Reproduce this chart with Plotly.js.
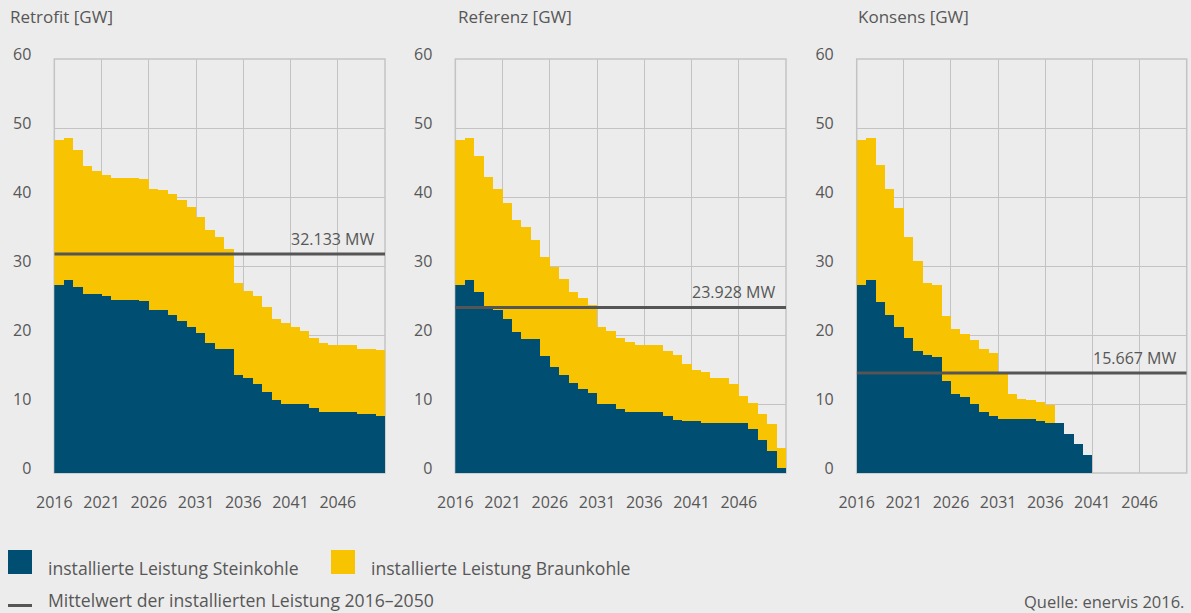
<!DOCTYPE html>
<html><head><meta charset="utf-8">
<script src="https://cdn.plot.ly/plotly-3.0.1.min.js"></script>
<style>html,body{margin:0;padding:0;background:#ececec;}#chart{width:1191px;height:613px;}</style>
</head><body><div id="chart"></div>
<script>
const years = [2016,2017,2018,2019,2020,2021,2022,2023,2024,2025,2026,2027,2028,2029,2030,2031,2032,2033,2034,2035,2036,2037,2038,2039,2040,2041,2042,2043,2044,2045,2046,2047,2048,2049,2050];
const tickYears = [2016,2021,2026,2031,2036,2041,2046,2051];
const tickLabels = ['2016','2021','2026','2031','2036','2041','2046',''];
const yTicks = [0,10,20,30,40,50,60];
const panelTitles = ['Retrofit [GW]','Referenz [GW]','Konsens [GW]'];

const retrofitStein = [27.3,28.0,27.0,25.9,25.9,25.7,25.1,25.1,25.1,25.0,23.6,23.6,22.9,22.0,21.2,20.3,18.9,18.0,18.0,14.2,13.8,12.9,11.8,10.6,10.0,10.0,10.0,9.4,8.9,8.9,8.9,8.9,8.5,8.5,8.3];
const retrofitBraun = [21.0,20.5,19.8,18.6,17.8,17.5,17.6,17.6,17.6,17.6,17.5,17.4,17.5,17.5,17.4,16.8,16.3,16.2,14.4,13.3,12.6,12.7,12.2,11.7,11.7,11.1,10.6,10.1,10.0,9.6,9.6,9.6,9.5,9.5,9.5];

const referenzStein = [27.3,28.0,26.3,24.1,23.6,22.3,20.4,19.4,19.4,16.9,15.4,14.2,13.1,12.2,11.6,10.0,10.0,9.3,8.9,8.9,8.9,8.9,8.3,7.7,7.6,7.6,7.2,7.2,7.2,7.2,7.2,6.4,4.8,3.2,0.7];
const referenzBraun = [21.0,20.5,19.7,18.8,17.6,16.9,16.3,16.3,14.4,14.4,14.5,13.9,13.2,13.2,12.8,11.1,10.6,10.2,10.1,9.6,9.6,9.6,9.4,9.4,8.2,7.3,7.4,6.6,6.6,5.7,4.0,3.8,3.8,3.9,2.9];

const konsensStein = [27.3,28.0,24.8,22.9,21.1,19.6,17.7,17.1,16.8,13.4,11.5,11.0,10.0,8.8,8.3,7.8,7.8,7.8,7.8,7.5,7.2,7.2,5.7,4.2,2.6,0,0,0,0,0,0,0,0,0,0];
const konsensBraun = [21.0,20.5,19.8,18.2,17.3,14.6,13.0,10.5,10.4,9.4,9.4,9.2,9.3,9.2,9.1,6.5,3.7,2.9,2.8,2.8,2.7,0,0,0,0,0,0,0,0,0,0,0,0,0,0];

const meanValues = [31.75, 24.0, 14.5];
const meanLabels = ['32.133 MW','23.928 MW','15.667 MW'];

const legendLabels = ['installierte Leistung Steinkohle','installierte Leistung Braunkohle','Mittelwert der installierten Leistung 2016\u20132050'];
const sourceText = 'Quelle: enervis 2016.';

const BLUE = '#004f73', YELLOW = '#f8c300', LINE = '#555555', TXT = '#575757', GRID = '#c3c3c3', BG = '#ececec';
const FONT = 'Open Sans';
const W = 1191, H = 613;
const px = v => v / W, py = v => 1 - v / H;

const steinSeries = [retrofitStein, referenzStein, konsensStein];
const braunSeries = [retrofitBraun, referenzBraun, konsensBraun];
const domainsPx = [[54.3,385],[455.3,786],[856.7,1186.7]];
const titleX = [8, 456, 856];
const xEnd = years[years.length-1] + 1;

const data = [];
const layout = {
  width: W, height: H, margin: {l:0,r:0,t:0,b:0},
  paper_bgcolor: BG, plot_bgcolor: BG,
  barmode: 'stack', bargap: 0, showlegend: false,
  font: {family: FONT, color: TXT, size: 16},
  annotations: [], shapes: []
};

for (let i = 0; i < 3; i++) {
  const sfx = i === 0 ? '' : String(i+1);
  const xa = 'x' + sfx, ya = 'y' + sfx;
  data.push({type:'bar', x: years, y: steinSeries[i], xaxis: xa, yaxis: ya, offset: 0, width: 1,
    marker: {color: BLUE, line: {width: 0}}, hoverinfo: 'x+y'});
  data.push({type:'bar', x: years, y: braunSeries[i], xaxis: xa, yaxis: ya, offset: 0, width: 1,
    marker: {color: YELLOW, line: {width: 0}}, hoverinfo: 'x+y'});
  data.push({type:'scatter', mode:'lines', x: [years[0], xEnd], y: [meanValues[i], meanValues[i]],
    xaxis: xa, yaxis: ya, line: {color: LINE, width: 3}, hoverinfo: 'y'});

  layout['xaxis' + sfx] = {
    domain: [px(domainsPx[i][0]), px(domainsPx[i][1])], anchor: ya,
    range: [years[0], xEnd], tickmode: 'array', tickvals: tickYears, ticktext: tickLabels,
    showgrid: true, gridcolor: GRID, gridwidth: 1, zeroline: false, showline: false, ticks: '',
    tickfont: {family: FONT, size: 16, color: TXT}, ticklabelstandoff: 18, fixedrange: true
  };
  layout['yaxis' + sfx] = {
    domain: [(H-473)/H, (H-59)/H], anchor: xa,
    range: [0, 60], tickmode: 'array', tickvals: yTicks,
    showgrid: true, gridcolor: GRID, gridwidth: 1, zeroline: false, showline: false, ticks: '',
    tickfont: {family: FONT, size: 16, color: TXT}, ticklabelstandoff: 22, ticklabelshift: -5, fixedrange: true
  };
  // plot frame (edge grid lines)
  layout.shapes.push({type:'rect', xref: xa + ' domain', yref: ya + ' domain', x0: 0, x1: 1, y0: 0, y1: 1,
    line: {color: GRID, width: 1.5}, fillcolor: 'rgba(0,0,0,0)', layer: 'below'});
  layout.annotations.push({text: panelTitles[i], xref:'paper', yref:'paper', x: px(titleX[i]), y: py(17),
    xanchor:'left', yanchor:'middle', showarrow:false, font:{family: FONT, size: 17, color: TXT}});
  layout.annotations.push({text: meanLabels[i], xref: xa, yref: ya, x: xEnd, y: meanValues[i],
    xanchor:'right', yanchor:'middle', xshift: -9, yshift: 15, showarrow:false,
    font:{family: FONT, size: 16, color: TXT}});
}

// legend
layout.shapes.push({type:'rect', xref:'paper', yref:'paper', x0: px(8), x1: px(32), y0: py(550), y1: py(574), fillcolor: BLUE, line:{width:0}});
layout.shapes.push({type:'rect', xref:'paper', yref:'paper', x0: px(331), x1: px(355), y0: py(550), y1: py(574), fillcolor: YELLOW, line:{width:0}});
layout.shapes.push({type:'line', xref:'paper', yref:'paper', x0: px(8), x1: px(32), y0: py(605.5), y1: py(605.5), line:{color: LINE, width: 3}});
const legX = [46, 369, 46], legY = [568, 568, 600];
for (let k = 0; k < 3; k++) {
  layout.annotations.push({text: legendLabels[k], xref:'paper', yref:'paper', x: px(legX[k]), y: py(legY[k]),
    xanchor:'left', yanchor:'middle', showarrow:false, font:{family: FONT, size: 17.6, color: TXT}});
}
layout.annotations.push({text: sourceText, xref:'paper', yref:'paper', x: px(1186), y: py(601),
  xanchor:'right', yanchor:'middle', showarrow:false, font:{family: FONT, size: 16.5, color: TXT}});

Plotly.newPlot('chart', data, layout, {displayModeBar: false, staticPlot: true});
</script></body></html>
